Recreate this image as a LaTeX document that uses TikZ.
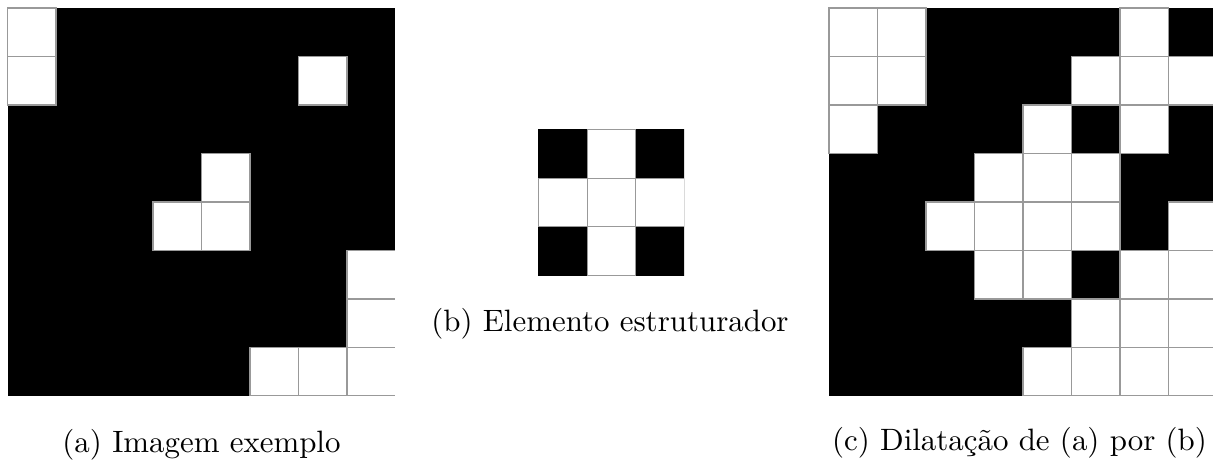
\documentclass[tikz,border=0pt]{standalone}
\usepackage{fontspec}
\begin{document}
\begin{tikzpicture}[x=0.3236pt,y=-0.3236pt,
  cellline/.style={draw=gray!80,line width=0.35pt},
  whitecell/.style={fill=white},
  caption/.style={anchor=base,inner sep=0pt,font=\fontsize{10}{12}\selectfont}]
\useasboundingbox (0,0) rectangle (1213,467);

% (a) example image, 8x8
\begin{scope}[shift={(7.5,8)}]
  \clip (-1,-1) rectangle (387.3,387.3);
  \fill[black] (0,0) rectangle (388,388);
  \foreach \r/\c in {0/0,1/0,1/6,3/4,4/3,4/4,5/7,6/7,7/5,7/6,7/7}
    \fill[whitecell] (\c*48.5,\r*48.5) rectangle ++(48.5,48.5);
  \foreach \r/\c in {0/0,1/0,1/6,3/4,4/3,4/4,5/7,6/7,7/5,7/6,7/7}
    \draw[cellline] (\c*48.5,\r*48.5) rectangle ++(48.5,48.5);
\end{scope}

% (b) structuring element, 3x3
\begin{scope}[shift={(538.3,129.3)}]
  \clip (-1,-1) rectangle (145.8,145.8);
  \fill[black] (0,0) rectangle (146.4,146.4);
  \foreach \r/\c in {0/1,1/0,1/1,1/2,2/1}
    \fill[whitecell] (\c*48.8,\r*48.8) rectangle ++(48.8,48.8);
  \foreach \r/\c in {0/1,1/0,1/1,1/2,2/1}
    \draw[cellline] (\c*48.8,\r*48.8) rectangle ++(48.8,48.8);
\end{scope}

% (c) dilation, 8x8
\begin{scope}[shift={(829,8)}]
  \clip (-1,-1) rectangle (384,387.3);
  \fill[black] (0,0) rectangle (388,388);
  \foreach \r/\c in {0/0,0/1,0/6,1/0,1/1,1/5,1/6,1/7,2/0,2/4,2/6,3/3,3/4,3/5,4/2,4/3,4/4,4/5,4/7,5/3,5/4,5/6,5/7,6/5,6/6,6/7,7/4,7/5,7/6,7/7}
    \fill[whitecell] (\c*48.5,\r*48.5) rectangle ++(48.5,48.5);
  \foreach \r/\c in {0/0,0/1,0/6,1/0,1/1,1/5,1/6,1/7,2/0,2/4,2/6,3/3,3/4,3/5,4/2,4/3,4/4,4/5,4/7,5/3,5/4,5/6,5/7,6/5,6/6,6/7,7/4,7/5,7/6,7/7}
    \draw[cellline] (\c*48.5,\r*48.5) rectangle ++(48.5,48.5);
\end{scope}

\node[caption] (capa) at (201.5,452.5) {(a) Imagem exemplo};
\node[caption] (capb) at (610,331.5) {(b) Elemento estruturador};
\node[caption] (capc) at (1019.5,451) {(c) Dilatação de (a) por (b)};
\end{tikzpicture}
\end{document}
